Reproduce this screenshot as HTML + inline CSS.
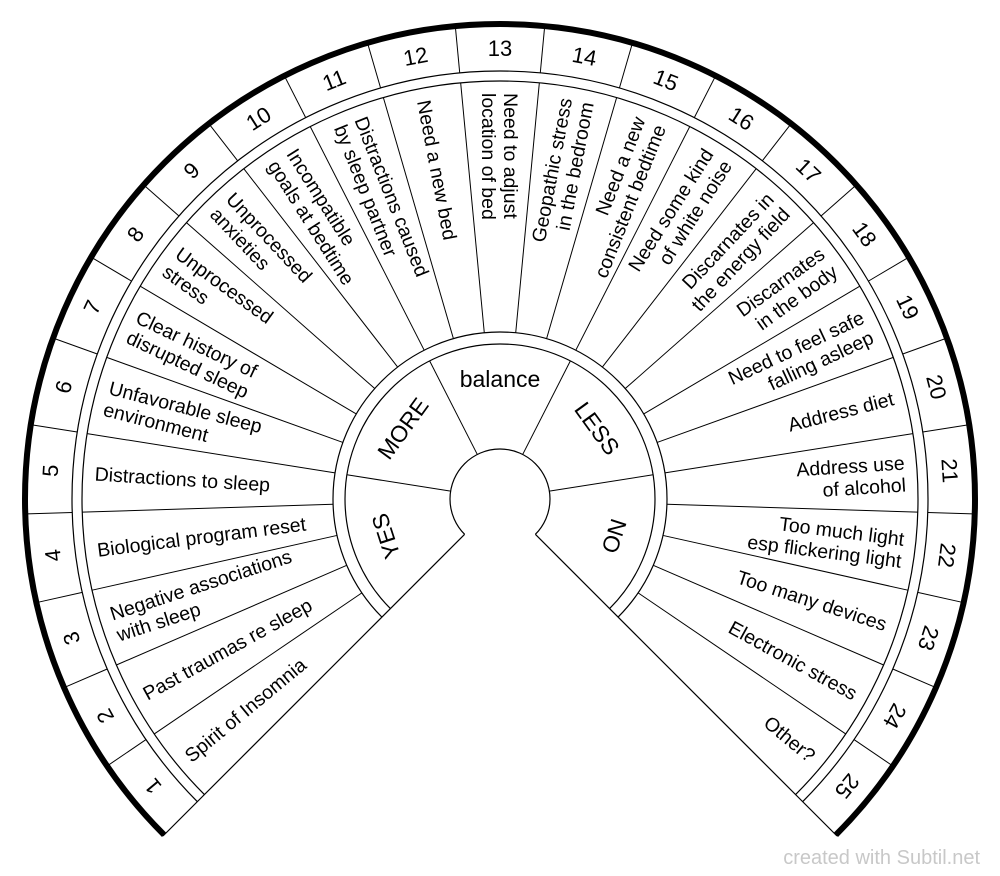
<!DOCTYPE html>
<html><head><meta charset="utf-8"><style>
html,body{margin:0;padding:0;background:#fff;}
svg{display:block;}
text{font-family:"Liberation Sans",Arial,sans-serif;fill:#000;}
.l{font-size:19.5px;}
.n{font-size:22px;text-anchor:middle;}
.b{font-size:23px;text-anchor:middle;}
</style></head><body>
<svg width="1000" height="876" viewBox="0 0 1000 876" xmlns="http://www.w3.org/2000/svg">
<g transform="translate(500,499)" fill="none" stroke="#000">
<path d="M -335.88 335.88 A 475 475 0 1 1 335.88 335.88" stroke-width="6"/>
<path d="M -302.64 302.64 A 428 428 0 1 1 302.64 302.64" stroke-width="1.2"/>
<path d="M -295.57 295.57 A 418 418 0 1 1 295.57 295.57" stroke-width="1.2"/>
<path d="M -118.09 118.09 A 167 167 0 1 1 118.09 118.09" stroke-width="1.2"/>
<path d="M -109.60 109.60 A 155 155 0 1 1 109.60 109.60" stroke-width="1.2"/>
<path d="M -35.36 35.36 A 50 50 0 1 1 35.36 35.36" stroke-width="1.2"/>
<line x1="-35.36" y1="35.36" x2="-337" y2="337" stroke-width="1.2"/>
<line x1="35.36" y1="35.36" x2="337" y2="337" stroke-width="1.2"/>
<g stroke-width="1">
<line x1="0" y1="-50" x2="0" y2="-155" transform="rotate(-81)"/>
<line x1="0" y1="-50" x2="0" y2="-155" transform="rotate(-27)"/>
<line x1="0" y1="-50" x2="0" y2="-155" transform="rotate(27)"/>
<line x1="0" y1="-50" x2="0" y2="-155" transform="rotate(81)"/>
</g>
<g stroke-width="1">
<line x1="0" y1="-167" x2="0" y2="-418" transform="rotate(-124.2)"/>
<line x1="0" y1="-167" x2="0" y2="-418" transform="rotate(-113.4)"/>
<line x1="0" y1="-167" x2="0" y2="-418" transform="rotate(-102.6)"/>
<line x1="0" y1="-167" x2="0" y2="-418" transform="rotate(-91.8)"/>
<line x1="0" y1="-167" x2="0" y2="-418" transform="rotate(-81)"/>
<line x1="0" y1="-167" x2="0" y2="-418" transform="rotate(-70.2)"/>
<line x1="0" y1="-167" x2="0" y2="-418" transform="rotate(-59.4)"/>
<line x1="0" y1="-167" x2="0" y2="-418" transform="rotate(-48.6)"/>
<line x1="0" y1="-167" x2="0" y2="-418" transform="rotate(-37.8)"/>
<line x1="0" y1="-167" x2="0" y2="-418" transform="rotate(-27)"/>
<line x1="0" y1="-167" x2="0" y2="-418" transform="rotate(-16.2)"/>
<line x1="0" y1="-167" x2="0" y2="-418" transform="rotate(-5.4)"/>
<line x1="0" y1="-167" x2="0" y2="-418" transform="rotate(5.4)"/>
<line x1="0" y1="-167" x2="0" y2="-418" transform="rotate(16.2)"/>
<line x1="0" y1="-167" x2="0" y2="-418" transform="rotate(27)"/>
<line x1="0" y1="-167" x2="0" y2="-418" transform="rotate(37.8)"/>
<line x1="0" y1="-167" x2="0" y2="-418" transform="rotate(48.6)"/>
<line x1="0" y1="-167" x2="0" y2="-418" transform="rotate(59.4)"/>
<line x1="0" y1="-167" x2="0" y2="-418" transform="rotate(70.2)"/>
<line x1="0" y1="-167" x2="0" y2="-418" transform="rotate(81)"/>
<line x1="0" y1="-167" x2="0" y2="-418" transform="rotate(91.8)"/>
<line x1="0" y1="-167" x2="0" y2="-418" transform="rotate(102.6)"/>
<line x1="0" y1="-167" x2="0" y2="-418" transform="rotate(113.4)"/>
<line x1="0" y1="-167" x2="0" y2="-418" transform="rotate(124.2)"/>
</g>
<g stroke-width="1">
<line x1="0" y1="-428" x2="0" y2="-473" transform="rotate(-124.2)"/>
<line x1="0" y1="-428" x2="0" y2="-473" transform="rotate(-113.4)"/>
<line x1="0" y1="-428" x2="0" y2="-473" transform="rotate(-102.6)"/>
<line x1="0" y1="-428" x2="0" y2="-473" transform="rotate(-91.8)"/>
<line x1="0" y1="-428" x2="0" y2="-473" transform="rotate(-81)"/>
<line x1="0" y1="-428" x2="0" y2="-473" transform="rotate(-70.2)"/>
<line x1="0" y1="-428" x2="0" y2="-473" transform="rotate(-59.4)"/>
<line x1="0" y1="-428" x2="0" y2="-473" transform="rotate(-48.6)"/>
<line x1="0" y1="-428" x2="0" y2="-473" transform="rotate(-37.8)"/>
<line x1="0" y1="-428" x2="0" y2="-473" transform="rotate(-27)"/>
<line x1="0" y1="-428" x2="0" y2="-473" transform="rotate(-16.2)"/>
<line x1="0" y1="-428" x2="0" y2="-473" transform="rotate(-5.4)"/>
<line x1="0" y1="-428" x2="0" y2="-473" transform="rotate(5.4)"/>
<line x1="0" y1="-428" x2="0" y2="-473" transform="rotate(16.2)"/>
<line x1="0" y1="-428" x2="0" y2="-473" transform="rotate(27)"/>
<line x1="0" y1="-428" x2="0" y2="-473" transform="rotate(37.8)"/>
<line x1="0" y1="-428" x2="0" y2="-473" transform="rotate(48.6)"/>
<line x1="0" y1="-428" x2="0" y2="-473" transform="rotate(59.4)"/>
<line x1="0" y1="-428" x2="0" y2="-473" transform="rotate(70.2)"/>
<line x1="0" y1="-428" x2="0" y2="-473" transform="rotate(81)"/>
<line x1="0" y1="-428" x2="0" y2="-473" transform="rotate(91.8)"/>
<line x1="0" y1="-428" x2="0" y2="-473" transform="rotate(102.6)"/>
<line x1="0" y1="-428" x2="0" y2="-473" transform="rotate(113.4)"/>
<line x1="0" y1="-428" x2="0" y2="-473" transform="rotate(124.2)"/>
</g>
</g>

<g transform="translate(500,499)">
<text class="n" y="-443" transform="rotate(-129.6)">1</text>
<text class="n" y="-443" transform="rotate(-118.8)">2</text>
<text class="n" y="-443" transform="rotate(-108)">3</text>
<text class="n" y="-443" transform="rotate(-97.2)">4</text>
<text class="n" y="-443" transform="rotate(-86.4)">5</text>
<text class="n" y="-443" transform="rotate(-75.6)">6</text>
<text class="n" y="-443" transform="rotate(-64.8)">7</text>
<text class="n" y="-443" transform="rotate(-54)">8</text>
<text class="n" y="-443" transform="rotate(-43.2)">9</text>
<text class="n" y="-443" transform="rotate(-32.4)">10</text>
<text class="n" y="-443" transform="rotate(-21.6)">11</text>
<text class="n" y="-443" transform="rotate(-10.8)">12</text>
<text class="n" y="-443" transform="rotate(0)">13</text>
<text class="n" y="-443" transform="rotate(10.8)">14</text>
<text class="n" y="-443" transform="rotate(21.6)">15</text>
<text class="n" y="-443" transform="rotate(32.4)">16</text>
<text class="n" y="-443" transform="rotate(43.2)">17</text>
<text class="n" y="-443" transform="rotate(54)">18</text>
<text class="n" y="-443" transform="rotate(64.8)">19</text>
<text class="n" y="-443" transform="rotate(75.6)">20</text>
<text class="n" y="-443" transform="rotate(86.4)">21</text>
<text class="n" y="-443" transform="rotate(97.2)">22</text>
<text class="n" y="-443" transform="rotate(108)">23</text>
<text class="n" y="-443" transform="rotate(118.8)">24</text>
<text class="n" y="-443" transform="rotate(129.6)">25</text>

<text class="b" y="-112" transform="rotate(-108)">YES</text>
<text class="b" y="-112" transform="rotate(-54)">MORE</text>
<text class="b" y="-112" transform="rotate(0)">balance</text>
<text class="b" y="-112" transform="rotate(54)">LESS</text>
<text class="b" y="-112" transform="rotate(108)">NO</text>

<g class="l" text-anchor="start">
<text x="-406" y="7" transform="rotate(-39.6)">Spirit of Insomnia</text>
<text x="-406" y="7" transform="rotate(-28.8)">Past traumas re sleep</text>
<text transform="rotate(-18)"><tspan x="-406" y="-4">Negative associations</tspan><tspan x="-406" y="18">with sleep</tspan></text>
<text x="-406" y="7" transform="rotate(-7.2)">Biological program reset</text>
<text x="-406" y="7" transform="rotate(3.6)">Distractions to sleep</text>
<text transform="rotate(14.4)"><tspan x="-406" y="-4">Unfavorable sleep</tspan><tspan x="-406" y="18">environment</tspan></text>
<text transform="rotate(25.2)"><tspan x="-406" y="-4">Clear history of</tspan><tspan x="-406" y="18">disrupted sleep</tspan></text>
<text transform="rotate(36)"><tspan x="-406" y="-4">Unprocessed</tspan><tspan x="-406" y="18">stress</tspan></text>
<text transform="rotate(46.8)"><tspan x="-406" y="-4">Unprocessed</tspan><tspan x="-406" y="18">anxieties</tspan></text>
<text transform="rotate(57.6)"><tspan x="-406" y="-4">Incompatible</tspan><tspan x="-406" y="18">goals at bedtime</tspan></text>
<text transform="rotate(68.4)"><tspan x="-406" y="-4">Distractions caused</tspan><tspan x="-406" y="18">by sleep partner</tspan></text>
<text x="-406" y="7" transform="rotate(79.2)">Need a new bed</text>
<text transform="rotate(90)"><tspan x="-406" y="-4">Need to adjust</tspan><tspan x="-406" y="18">location of bed</tspan></text>
</g>

<g class="l" text-anchor="end">
<text transform="rotate(-79.2)"><tspan x="406" y="-4">Geopathic stress</tspan><tspan x="406" y="18">in the bedroom</tspan></text>
<text transform="rotate(-68.4)"><tspan x="406" y="-4">Need a new</tspan><tspan x="406" y="18">consistent bedtime</tspan></text>
<text transform="rotate(-57.6)"><tspan x="406" y="-4">Need some kind</tspan><tspan x="406" y="18">of white noise</tspan></text>
<text transform="rotate(-46.8)"><tspan x="406" y="-4">Discarnates in</tspan><tspan x="406" y="18">the energy field</tspan></text>
<text transform="rotate(-36)"><tspan x="406" y="-4">Discarnates</tspan><tspan x="406" y="18">in the body</tspan></text>
<text transform="rotate(-25.2)"><tspan x="406" y="-4">Need to feel safe</tspan><tspan x="406" y="18">falling asleep</tspan></text>
<text x="406" y="7" transform="rotate(-14.4)">Address diet</text>
<text transform="rotate(-3.6)"><tspan x="406" y="-4">Address use</tspan><tspan x="406" y="18">of alcohol</tspan></text>
<text transform="rotate(7.2)"><tspan x="406" y="-4">Too much light</tspan><tspan x="406" y="18">esp flickering light</tspan></text>
<text x="406" y="7" transform="rotate(18)">Too many devices</text>
<text x="406" y="7" transform="rotate(28.8)">Electronic stress</text>
<text x="406" y="7" transform="rotate(39.6)">Other?</text>
</g>
</g>

<text x="980" y="864" text-anchor="end" style="font-size:20px;fill:#c8c8c8;">created with Subtil.net</text>
</svg>
</body></html>
